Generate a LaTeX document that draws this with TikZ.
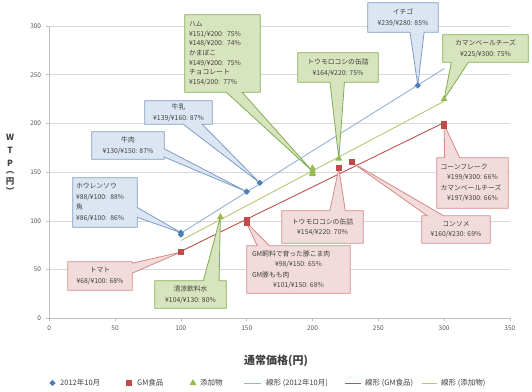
\documentclass[tikz,border=0pt]{standalone}
\usepackage{fontspec}
\setmainfont{Noto Sans CJK JP}
\usetikzlibrary{calc,shapes.geometric}
\definecolor{mblue}{HTML}{4A7EBB}
\definecolor{mred}{HTML}{BE4B48}
\definecolor{mgreen}{HTML}{98B954}
\definecolor{tblue}{HTML}{95B3D7}
\definecolor{tred}{HTML}{C0504D}
\definecolor{tgreen}{HTML}{B3CB72}
\definecolor{bfill}{HTML}{DCE6F2}
\definecolor{bline}{HTML}{7F9CC6}
\definecolor{rfill}{HTML}{F2DCDB}
\definecolor{rline}{HTML}{D58A88}
\definecolor{gfill}{HTML}{D7E4BD}
\definecolor{gline}{HTML}{80AE4F}
\definecolor{gridc}{HTML}{D9D9D9}
\definecolor{axisc}{HTML}{BFBFBF}
\definecolor{txt}{HTML}{404040}
\definecolor{ticktxt}{HTML}{595959}
\pgfdeclarelayer{paper}
\pgfdeclarelayer{grid}
\pgfdeclarelayer{callouts}
\pgfsetlayers{paper,grid,callouts,main}
% callout outlines: #1 style, #2 box node, #3/#4 base fractions, #5 tip node
\newcommand\coS[5]{\begin{pgfonlayer}{callouts}\draw[#1] (#2.north west) -- (#2.north east) -- (#2.south east) -- ($(#2.south west)!#4!(#2.south east)$) -- (#5.center) -- ($(#2.south west)!#3!(#2.south east)$) -- (#2.south west) -- cycle;\end{pgfonlayer}}
\newcommand\coN[5]{\begin{pgfonlayer}{callouts}\draw[#1] (#2.south west) -- (#2.north west) -- ($(#2.north west)!#3!(#2.north east)$) -- (#5.center) -- ($(#2.north west)!#4!(#2.north east)$) -- (#2.north east) -- (#2.south east) -- cycle;\end{pgfonlayer}}
\newcommand\coE[5]{\begin{pgfonlayer}{callouts}\draw[#1] (#2.north west) -- (#2.north east) -- ($(#2.north east)!#3!(#2.south east)$) -- (#5.center) -- ($(#2.north east)!#4!(#2.south east)$) -- (#2.south east) -- (#2.south west) -- cycle;\end{pgfonlayer}}
\newcommand\lft[2]{\makebox[#1][l]{#2}}
\begin{document}
\begin{tikzpicture}[x=1pt,y=-1pt,
  gridline/.style={draw=gridc, line width=0.7pt},
  axisline/.style={draw=axisc, line width=0.7pt},
  ticklab/.style={font=\fontsize{6.5}{7}\selectfont, text=ticktxt, inner sep=0pt},
  bpt/.style={diamond, fill=mblue, inner sep=0pt, minimum size=6.5pt},
  rpt/.style={rectangle, fill=mred, inner sep=0pt, minimum size=6pt},
  gpt/.style={regular polygon, regular polygon sides=3, fill=mgreen, inner sep=0pt, minimum size=8pt},
  trendb/.style={draw=tblue, line width=0.9pt},
  trendr/.style={draw=tred, line width=0.9pt},
  trendg/.style={draw=tgreen, line width=0.9pt},
  bcall/.style={fill=bfill, draw=bline, line width=0.8pt},
  rcall/.style={fill=rfill, draw=rline, line width=0.8pt},
  gcall/.style={fill=gfill, draw=gline, line width=0.8pt},
  ctext/.style={inner sep=0pt, text=txt, font=\fontsize{6.8}{10.5}\selectfont},
  legtext/.style={font=\fontsize{7.5}{8}\selectfont, text=txt, anchor=west, inner sep=0pt},
  ytitle/.style={font=\bfseries\fontsize{8.5}{9}\selectfont, text=txt, inner sep=0pt}]
\begin{pgfonlayer}{paper}
\fill[white] (0,0) rectangle (532,391);
\end{pgfonlayer}
\useasboundingbox (0,0) rectangle (532,391);

% ---------- plot area ----------
\begin{scope}[shift={(49.3,318.3)},x=1.316pt,y=0.974pt]
 \begin{pgfonlayer}{grid}
  \foreach \v in {50,100,...,300} \draw[gridline] (0,\v) -- (350,\v);
  \draw[axisline] (0,0) -- (350,0);
  \draw[axisline] (0,0) -- (0,300);
  \foreach \v in {0,50,...,300} \draw[axisline] (0,\v) -- ++(-3pt,0pt);
  \foreach \v in {0,50,...,350} \draw[axisline] (\v,0) -- ++(0pt,-3pt);
  \coordinate (tb1) at (100,87.43); \coordinate (tb2) at (300,256.3);
  \coordinate (tr1) at (100,68.77); \coordinate (tr2) at (300,200.93);
  \coordinate (tg1) at (100,79.87); \coordinate (tg2) at (300,222.79);
  \draw[trendb] (tb1) -- (tb2);
  \draw[trendr] (tr1) -- (tr2);
  \draw[trendg] (tg1) -- (tg2);
 \end{pgfonlayer}
 \foreach \v in {0,50,...,300} \node[ticklab,anchor=east] (yl\v) at ([xshift=-8pt]0,\v) {\v};
 \foreach \v in {0,50,...,350} \node[ticklab,anchor=north] (xl\v) at ([yshift=-7pt]\v,0) {\v};
 % data points
 \node[bpt] (b1) at (100,88) {};
 \node[bpt] (b2) at (100,86) {};
 \node[bpt] (b3) at (150,130) {};
 \node[bpt] (b4) at (160,139) {};
 \node[bpt] (b5) at (280,239) {};
 \node[rpt] (r1) at (100,68) {};
 \node[rpt] (r2) at (150,98) {};
 \node[rpt] (r3) at (150,101) {};
 \node[rpt] (r4) at (220,154) {};
 \node[rpt] (r5) at (230,160) {};
 \node[rpt] (r6) at (300,199) {};
 \node[rpt] (r7) at (300,197) {};
 \node[gpt] (g1) at (200,151) {};
 \node[gpt] (g2) at (200,148) {};
 \node[gpt] (g3) at (200,149) {};
 \node[gpt] (g4) at (200,154) {};
 \node[gpt] (g5) at (130,104) {};
 \node[gpt] (g6) at (220,164) {};
 \node[gpt] (g7) at (300,225) {};
\end{scope}

% ---------- axis titles ----------
\node[ytitle] (yw) at (10,137) {W};
\node[ytitle] (yt) at (10,150) {T};
\node[ytitle] (yp) at (10,163) {P};
\node[ytitle] (ylp) at (10,173) {︵};
\node[ytitle] (yen) at (10,182) {円};
\node[ytitle] (yrp) at (10,191) {︶};
\node[font=\bfseries\fontsize{11}{11}\selectfont, text=txt, inner sep=0pt] (xtitle) at (276,361) {通常価格(円)};

% ---------- callouts ----------
\node[ctext, font=\fontsize{6.8}{9.6}\selectfont, minimum width=75pt, minimum height=77pt, text width=67pt, align=left] (ham) at (222.5,53.5)
 {ハム\\¥151/¥200: 75\%\\¥148/¥200: 74\%\\かまぼこ\\¥149/¥200: 75\%\\チョコレート\\¥154/200: 77\%};
\node[ctext, minimum width=70pt, minimum height=29pt, align=center] (ichigo) at (403,17.5) {イチゴ\\¥239/¥280: 85\%};
\node[ctext, minimum width=85pt, minimum height=27pt, align=center] (camG) at (485.5,48.5) {カマンベールチーズ\\¥225/¥300: 75\%};
\node[ctext, minimum width=80pt, minimum height=29pt, align=center] (cornG) at (338,67.5) {トウモロコシの缶詰\\¥164/¥220: 75\%};
\node[ctext, minimum width=67pt, minimum height=23pt, align=center] (milk) at (178.5,112.5) {牛乳\\¥139/¥160: 87\%};
\node[ctext, minimum width=72pt, minimum height=27pt, align=center] (beef) at (128,145.5) {牛肉\\¥130/¥150: 87\%};
\node[ctext, minimum width=64pt, minimum height=49pt, text width=58pt, align=left] (spin) at (105,202.5)
 {ホウレンソウ\\¥88/¥100: 88\%\\魚\\¥86/¥100: 86\%};
\node[ctext, minimum width=64pt, minimum height=28pt, align=center] (tomato) at (100,276) {トマト\\¥68/¥100: 68\%};
\node[ctext, minimum width=71pt, minimum height=27pt, align=center] (drink) at (190.5,294.5) {清涼飲料水\\¥104/¥130: 80\%};
\node[ctext, minimum width=103pt, minimum height=47pt, align=center] (gmfeed) at (298.5,269.5)
 {\lft{93pt}{GM飼料で育った豚こま肉}\\¥98/¥150: 65\%\\\lft{93pt}{GM豚もも肉}\\¥101/¥150: 68\%};
\node[ctext, minimum width=81pt, minimum height=32pt, align=center] (cornR) at (322.5,227) {トウモロコシの缶詰\\¥154/¥220: 70\%};
\node[ctext, minimum width=68pt, minimum height=27pt, align=center] (consomme) at (456,229.5) {コンソメ\\¥160/¥230: 69\%};
\node[ctext, minimum width=71pt, minimum height=50pt, align=center] (cornflake) at (472.5,183)
 {\lft{64pt}{コーンフレーク}\\¥199/¥300: 66\%\\\lft{64pt}{カマンベールチーズ}\\¥197/¥300: 66\%};

\coS{gcall}{ham}{0.55}{0.76}{g1}
\coS{bcall}{ichigo}{0.6}{0.8}{b5}
\coS{gcall}{camG}{0.1}{0.3}{g7}
\coS{gcall}{cornG}{0.4}{0.58}{g6}
\coS{bcall}{milk}{0.57}{0.85}{b4}
\coE{bcall}{beef}{0.62}{0.92}{b3}
\coE{bcall}{spin}{0.6}{0.8}{b1}
\coE{rcall}{tomato}{0.05}{0.4}{r1}
\coN{gcall}{drink}{0.68}{0.9}{g5}
\coN{rcall}{gmfeed}{0.1}{0.22}{r2}
\coN{rcall}{cornR}{0.59}{0.78}{r4}
\coN{rcall}{consomme}{0.08}{0.32}{r5}
\coN{rcall}{cornflake}{0.11}{0.32}{r6}

% ---------- legend ----------
\node[bpt] (lgb) at (52.5,383) {};
\node[legtext] (lgbt) at (60,383) {2012年10月};
\node[rpt] (lgr) at (129,383) {};
\node[legtext] (lgrt) at (137,383) {GM食品};
\node[gpt] (lgg) at (193,383) {};
\node[legtext] (lggt) at (200,383) {添加物};
\coordinate (lb1) at (244,383); \coordinate (lb2) at (261,383);
\draw[trendb] (lb1) -- (lb2);
\node[legtext] (lbt) at (266,383) {線形 (2012年10月)};
\coordinate (lr1) at (345,383); \coordinate (lr2) at (361,383);
\draw[trendr] (lr1) -- (lr2);
\node[legtext] (lrt) at (365,383) {線形 (GM食品)};
\coordinate (lg1) at (422,383); \coordinate (lg2) at (437,383);
\draw[trendg] (lg1) -- (lg2);
\node[legtext] (lgt) at (441,383) {線形 (添加物)};
\end{tikzpicture}
\end{document}
